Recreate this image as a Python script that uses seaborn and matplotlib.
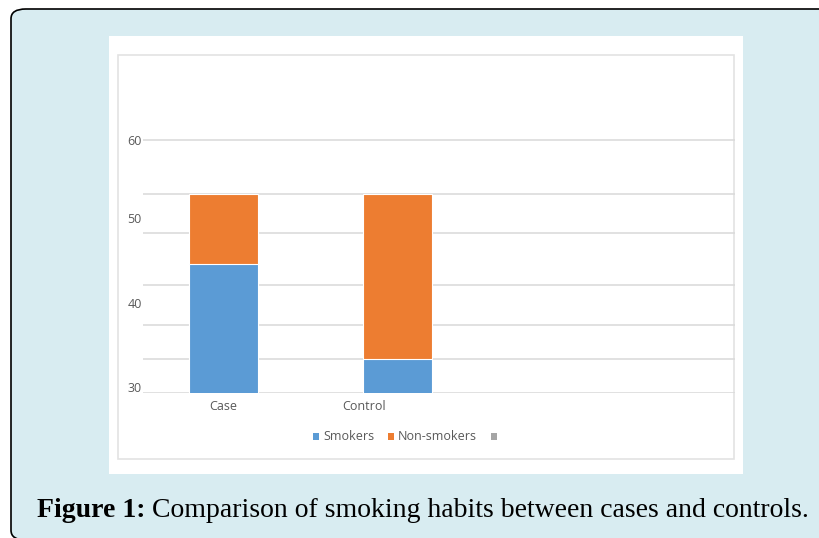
import matplotlib
matplotlib.use("Agg")
import matplotlib.pyplot as plt
import matplotlib.transforms as mtransforms
from matplotlib.patches import FancyBboxPatch, Rectangle, Patch
import seaborn as sns
import pandas as pd

# Data
groups = ["Case", "Control"]
smokers = [45.3, 34.0]
non_smokers = [8.3, 19.6]
series_names = ["Smokers", "Non-smokers", ""]
y_ticks = [30, 40, 50, 60]
grid_levels = [30, 34.0, 38.1, 42.8, 49.0, 53.6, 60]

BLUE = "#5B9BD5"
ORANGE = "#ED7D31"
GREY = "#A5A5A5"
TEXT = "#595959"
GRID = "#D9D9D9"
PAGE = "#D8ECF1"

W, H, DPI = 819, 538, 100
sns.set_theme(style="white")
plt.rcParams["font.family"] = ["Open Sans", "DejaVu Sans"]

fig = plt.figure(figsize=(W / DPI, H / DPI), dpi=DPI)
fig.patch.set_facecolor("white")


def fx(px):
    return px / W


def fy(py):
    return 1 - py / H


# Page background with rounded black outline
fig.patches.append(FancyBboxPatch((fx(11), fy(540)), fx(830), fy(9) - fy(540),
                                  boxstyle="round,pad=0,rounding_size=0.018",
                                  transform=fig.transFigure, facecolor=PAGE,
                                  edgecolor="black", linewidth=1.2, zorder=0))
# White chart card
fig.patches.append(Rectangle((fx(109), fy(474)), fx(743 - 109), fy(36) - fy(474),
                             transform=fig.transFigure, facecolor="white",
                             edgecolor="none", zorder=1))
# Chart-area frame
fig.patches.append(Rectangle((fx(118), fy(459)), fx(734 - 118), fy(55) - fy(459),
                             transform=fig.transFigure, facecolor="none",
                             edgecolor="#E3E3E3", linewidth=1.2, zorder=2))

# Plot area
left, right, top, bottom = 143, 735, 55, 393
ax = fig.add_axes([fx(left), fy(bottom), fx(right - left), fy(top) - fy(bottom)])
ax.set_facecolor("none")
ax.set_zorder(5)

df = pd.DataFrame({"group": groups, "smokers": smokers,
                   "total": [s + n for s, n in zip(smokers, non_smokers)]})

for lvl in grid_levels:
    ax.axhline(lvl, color=GRID, linewidth=1.1, zorder=0)

bar_w = 0.395
sns.barplot(data=df, x="group", y="total", color=ORANGE, saturation=1,
            width=bar_w, edgecolor="white", linewidth=0.8, ax=ax, zorder=2)
sns.barplot(data=df, x="group", y="smokers", color=BLUE, saturation=1,
            width=bar_w, edgecolor="white", linewidth=0.8, ax=ax, zorder=3)

px_per_unit = (bottom - 140) / 30.0
ax.set_ylim(30, 30 + (bottom - top) / px_per_unit)
ax.set_xlim(-(223.5 - left) / 174.0, 1 + (right - 397.5) / 174.0)
ax.set_yticks(y_ticks)
ax.set_xlabel("")
ax.set_ylabel("")
for s in ax.spines.values():
    s.set_visible(False)
ax.tick_params(axis="both", length=0, labelsize=9, colors=TEXT, pad=1)
ax.tick_params(axis="x", pad=5)

# Nudge tick labels
for lbl, v in zip(ax.get_yticklabels(), y_ticks):
    dy = 0 if v == 60 else 6
    lbl.set_transform(lbl.get_transform() +
                      mtransforms.ScaledTranslation(0, dy / DPI, fig.dpi_scale_trans))
xl = ax.get_xticklabels()
xl[1].set_transform(xl[1].get_transform() +
                    mtransforms.ScaledTranslation(-33 / DPI, 0, fig.dpi_scale_trans))

# Legend
handles = [Patch(facecolor=c, edgecolor="none") for c in (BLUE, ORANGE, GREY)]
leg = fig.legend(handles, series_names, loc="center", bbox_to_anchor=(fx(407), fy(437)),
                 ncol=3, frameon=False, fontsize=9, handlelength=0.5, handleheight=0.5,
                 handletextpad=0.3, columnspacing=1.1, labelcolor=TEXT)

# Caption
cap_font = ["Liberation Serif", "DejaVu Serif"]
t1 = fig.text(fx(37), fy(517), "Figure 1:", fontsize=20, fontweight="bold",
              family=cap_font, color="black", va="baseline")
fig.canvas.draw()
ext = t1.get_window_extent()
fig.text((ext.x1 + 6) / W, fy(517), "Comparison of smoking habits between cases and controls.",
         fontsize=20, family=cap_font, color="black", va="baseline")

fig.savefig("out.png", dpi=DPI, facecolor=fig.get_facecolor())
